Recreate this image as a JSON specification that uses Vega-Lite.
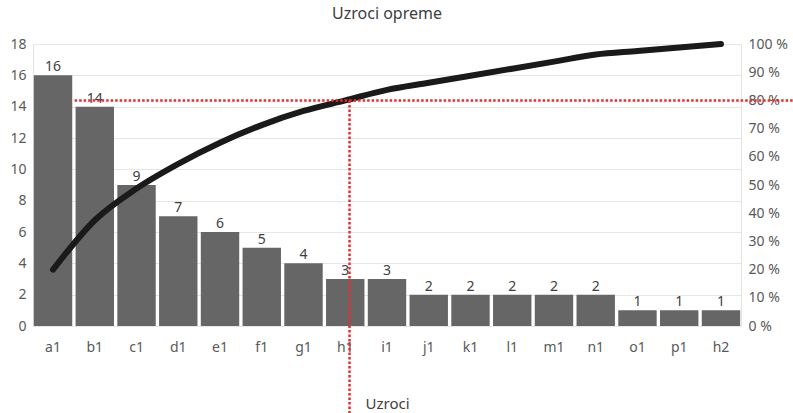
{
  "$schema": "https://vega.github.io/schema/vega-lite/v6.json",
  "width": 708,
  "height": 282,
  "autosize": "none",
  "padding": {"left": 33, "top": 44, "right": 52, "bottom": 87},
  "config": {
    "font": "Noto Sans",
    "view": {"stroke": "#e3e3e3"},
    "axis": {"labelFont": "Noto Sans", "titleFont": "Noto Sans", "labelColor": "#595959", "titleColor": "#404040", "labelFontSize": 14, "titleFontSize": 15, "titleFontWeight": "normal"}
  },
  "title": {"text": "Uzroci opreme", "fontSize": 16, "fontWeight": "normal", "color": "#404040", "offset": 10, "anchor": "middle"},
  "datasets": {
    "pareto": [
      {"cat": "a1", "count": 16, "cum": 20},
      {"cat": "b1", "count": 14, "cum": 37.5},
      {"cat": "c1", "count": 9, "cum": 48.75},
      {"cat": "d1", "count": 7, "cum": 57.5},
      {"cat": "e1", "count": 6, "cum": 65},
      {"cat": "f1", "count": 5, "cum": 71.25},
      {"cat": "g1", "count": 4, "cum": 76.25},
      {"cat": "h1", "count": 3, "cum": 80},
      {"cat": "i1", "count": 3, "cum": 83.75},
      {"cat": "j1", "count": 2, "cum": 86.25},
      {"cat": "k1", "count": 2, "cum": 88.75},
      {"cat": "l1", "count": 2, "cum": 91.25},
      {"cat": "m1", "count": 2, "cum": 93.75},
      {"cat": "n1", "count": 2, "cum": 96.25},
      {"cat": "o1", "count": 1, "cum": 97.5},
      {"cat": "p1", "count": 1, "cum": 98.75},
      {"cat": "h2", "count": 1, "cum": 100}
    ],
    "refs": [
      {"x": 1, "x2": 18.4, "y": 80, "y2": 80},
      {"x": 7.6, "x2": 7.6, "y": 80, "y2": -32}
    ]
  },
  "layer": [
    {
      "data": {"name": "pareto"},
      "encoding": {
        "x": {"field": "cat", "type": "nominal", "sort": null, "scale": {"paddingInner": 0.08, "paddingOuter": 0.02},
          "axis": {"title": "Uzroci", "labelAngle": 0, "ticks": false, "domain": false, "labelPadding": 14, "titlePadding": 42}}
      },
      "layer": [
        {
          "mark": {"type": "bar", "color": "#666666"},
          "encoding": {
            "y": {"field": "count", "type": "quantitative", "scale": {"domain": [0, 18]},
              "axis": {"orient": "left", "title": null, "values": [0, 2, 4, 6, 8, 10, 12, 14, 16, 18], "grid": true, "gridColor": "#e6e6e6", "domain": false, "ticks": false, "labelPadding": 7}}
          }
        },
        {
          "mark": {"type": "text", "dy": -8, "fontSize": 14, "color": "#404040"},
          "encoding": {
            "y": {"field": "count", "type": "quantitative", "scale": {"domain": [0, 18]}, "axis": null},
            "text": {"field": "count", "type": "quantitative"}
          }
        },
        {
          "mark": {"type": "line", "color": "#1a1a1a", "strokeWidth": 6, "interpolate": "monotone", "strokeCap": "round"},
          "encoding": {
            "y": {"field": "cum", "type": "quantitative", "scale": {"domain": [0, 100]},
              "axis": {"orient": "right", "title": null, "values": [0, 10, 20, 30, 40, 50, 60, 70, 80, 90, 100], "labelExpr": "datum.value + ' %'", "grid": false, "domain": false, "ticks": false, "labelPadding": 7}}
          }
        }
      ],
      "resolve": {"scale": {"y": "independent"}}
    },
    {
      "data": {"name": "refs"},
      "mark": {"type": "rule", "color": "#ee2a2a", "strokeWidth": 2.5, "strokeDash": [2.5, 2], "clip": false},
      "encoding": {
        "x": {"field": "x", "type": "quantitative", "scale": {"domain": [0, 17], "nice": false, "zero": false}, "axis": null},
        "x2": {"field": "x2"},
        "y": {"field": "y", "type": "quantitative", "scale": {"domain": [0, 100], "nice": false}, "axis": null},
        "y2": {"field": "y2"}
      }
    }
  ],
  "resolve": {"scale": {"x": "independent", "y": "independent"}}
}
